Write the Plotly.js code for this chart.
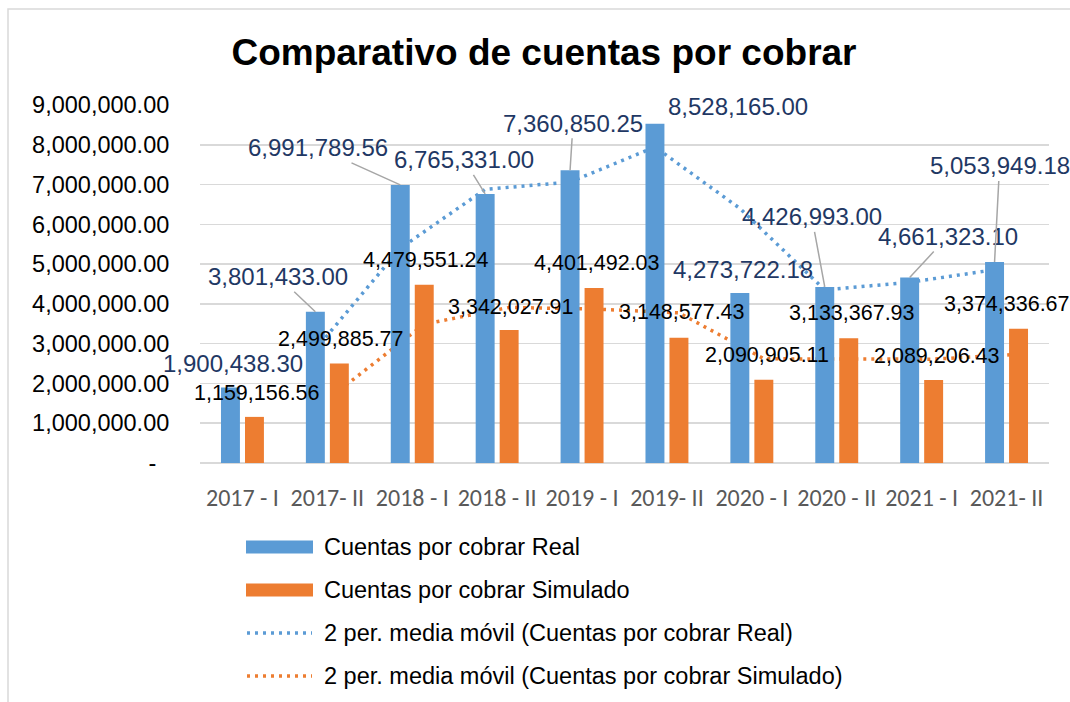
<!DOCTYPE html>
<html>
<head>
<meta charset="utf-8">
<script src="https://cdn.plot.ly/plotly-3.0.1.min.js"></script>
<style>
html,body{margin:0;padding:0;background:#ffffff;}
#chart{width:1070px;height:702px;}
</style>
</head>
<body>
<div id="chart"></div>
<script>
// ---------- data ----------
const categories = ['2017 - I','2017- II','2018 - I','2018 - II','2019 - I','2019- II','2020 - I','2020 - II','2021 - I','2021- II'];
const realValues = [1900438.30, 3801433.00, 6991789.56, 6765331.00, 7360850.25, 8528165.00, 4273722.18, 4426993.00, 4661323.10, 5053949.18];
const simValues  = [1159156.56, 2499885.77, 4479551.24, 3342027.91, 4401492.03, 3148577.43, 2090905.11, 3133367.93, 2089206.43, 3374336.67];
const realMovingAvg = [null, 2850935.65, 5396611.28, 6878560.28, 7063090.63, 7944507.63, 6400943.59, 4350357.59, 4544158.05, 4857636.14];
const simMovingAvg  = [null, 1829521.17, 3489718.51, 3910789.58, 3871759.97, 3775034.73, 2619741.27, 2612136.52, 2611287.18, 2731771.55];
const seriesNames = ['Cuentas por cobrar Real','Cuentas por cobrar Simulado','2 per. media móvil (Cuentas por cobrar Real)','2 per. media móvil (Cuentas por cobrar Simulado)'];
const yTickValues = [0,1000000,2000000,3000000,4000000,5000000,6000000,7000000,8000000,9000000];
const yTickLabels = ['-\u00a0\u00a0','1,000,000.00','2,000,000.00','3,000,000.00','4,000,000.00','5,000,000.00','6,000,000.00','7,000,000.00','8,000,000.00','9,000,000.00'];
const chartTitle = 'Comparativo de cuentas por cobrar';

// ---------- style / placement ----------
const BLUE = '#5B9BD5', ORANGE = '#ED7D31', NAVY = '#1F3864', GRID = '#D9D9D9', LEADER = '#A6A6A6';
const ARIAL = '"Liberation Sans", Arial, sans-serif';
const NARROW = 'Carlito, "Liberation Sans Narrow", "DejaVu Sans Condensed", sans-serif';
const BARGAP = 0.435, BARGROUPGAP = 0.21;
const OFF = (1 - BARGAP) / 4;
const realLabelOffsets = [[3,-24],[-37,-35],[-82,-37],[-21,-34],[3,-47],[83,-17],[3,-24],[-13,-70],[38,-41],[5,-96]];
const realLeader = [false,true,true,true,true,false,false,true,true,true];
const simLabelOffsets = [[3,-24],[2,-25],[2,-25],[2,-23],[3,-25],[3,-26],[3,-25],[3,-25],[3,-24],[-12,-25]];

const idx = categories.map((_, i) => i);
const fmt = v => v.toLocaleString('en-US', {minimumFractionDigits: 2, maximumFractionDigits: 2});

const traces = [
  {type:'bar', x: idx, y: realValues, name: seriesNames[0], marker:{color: BLUE}, showlegend:false, hoverinfo:'skip'},
  {type:'bar', x: idx, y: simValues, name: seriesNames[1], marker:{color: ORANGE}, showlegend:false, hoverinfo:'skip'},
  {type:'scatter', mode:'lines', x: idx.map(i => i - OFF), y: realMovingAvg, name: seriesNames[2],
   line:{color: BLUE, width:3.5, dash:'3px,5px'}, zorder:-1, showlegend:false, hoverinfo:'skip'},
  {type:'scatter', mode:'lines', x: idx.map(i => i + OFF), y: simMovingAvg, name: seriesNames[3],
   line:{color: ORANGE, width:3.5, dash:'3px,5px'}, zorder:-1, showlegend:false, hoverinfo:'skip'}
];

const annotations = [];
idx.forEach(i => {
  annotations.push({
    x: i - OFF, y: realValues[i], xref:'x', yref:'y', text: fmt(realValues[i]),
    showarrow:true, arrowhead:0, arrowwidth:1.5, standoff:0,
    arrowcolor: realLeader[i] ? LEADER : 'rgba(0,0,0,0)',
    ax: realLabelOffsets[i][0], ay: realLabelOffsets[i][1],
    font:{family: ARIAL, size:24, color: NAVY}
  });
  annotations.push({
    x: i + OFF, y: simValues[i], xref:'x', yref:'y', text: fmt(simValues[i]),
    showarrow:true, arrowhead:0, arrowwidth:1, standoff:0, arrowcolor:'rgba(0,0,0,0)',
    ax: simLabelOffsets[i][0], ay: simLabelOffsets[i][1],
    font:{family: ARIAL, size:21.5, color:'#000000'}
  });
});

// custom legend (paper coordinates)
const L = 200, R = 1049, T = 105, B = 463;
const px = p => (p - L) / (R - L);
const py = p => (B - p) / (B - T);
const legendRows = [547, 590, 633, 676];
const legendColors = [BLUE, ORANGE, BLUE, ORANGE];
const shapes = [
  {type:'rect', xref:'paper', yref:'paper', x0: px(8), x1: px(1090), y0: py(720), y1: py(9),
   line:{color: GRID, width:1.5}, fillcolor:'rgba(0,0,0,0)', layer:'below'}
];
legendRows.forEach((ry, k) => {
  if (k < 2) {
    shapes.push({type:'rect', xref:'paper', yref:'paper', x0: px(246), x1: px(313), y0: py(ry + 6.5), y1: py(ry - 6.5),
      line:{width:0}, fillcolor: legendColors[k]});
  } else {
    shapes.push({type:'line', xref:'paper', yref:'paper', x0: px(247), x1: px(312), y0: py(ry), y1: py(ry),
      line:{color: legendColors[k], width:3.5, dash:'3px,5px'}});
  }
  annotations.push({xref:'paper', yref:'paper', x: px(322), y: py(ry), xanchor:'left', yanchor:'middle',
    showarrow:false, text: seriesNames[k], font:{family: ARIAL, size:23.5, color:'#000000'}});
});

const layout = {
  width:1070, height:702,
  margin:{l: L, r: 1070 - R, t: T, b: 702 - B, pad:0},
  paper_bgcolor:'#ffffff', plot_bgcolor:'#ffffff',
  title:{text: chartTitle, font:{family: ARIAL, size:37, color:'#000000', weight:'bold'},
         x: px(544), xref:'paper', xanchor:'center', y: 1 - 52/702, yref:'container', yanchor:'middle'},
  barmode:'group', bargap: BARGAP, bargroupgap: BARGROUPGAP,
  showlegend:false,
  xaxis:{type:'linear', range:[-0.5, 9.5], tickvals: idx, ticktext: categories,
         showgrid:false, zeroline:false, showline:false,
         ticks:'outside', ticklen:13, tickcolor:'rgba(0,0,0,0)',
         tickfont:{family: NARROW, size:24, color:'#595959'}, fixedrange:true},
  yaxis:{range:[0, 9000000], tickvals: yTickValues, ticktext: yTickLabels,
         showgrid:true, gridcolor: GRID, gridwidth:1.5,
         zeroline:true, zerolinecolor: GRID, zerolinewidth:1.5, showline:false,
         ticks:'outside', ticklen:25, tickcolor:'rgba(0,0,0,0)',
         tickfont:{family: ARIAL, size:23.5, color:'#000000'}, fixedrange:true},
  annotations: annotations,
  shapes: shapes
};

Plotly.newPlot('chart', traces, layout, {displayModeBar:false, staticPlot:true});
</script>
</body>
</html>
